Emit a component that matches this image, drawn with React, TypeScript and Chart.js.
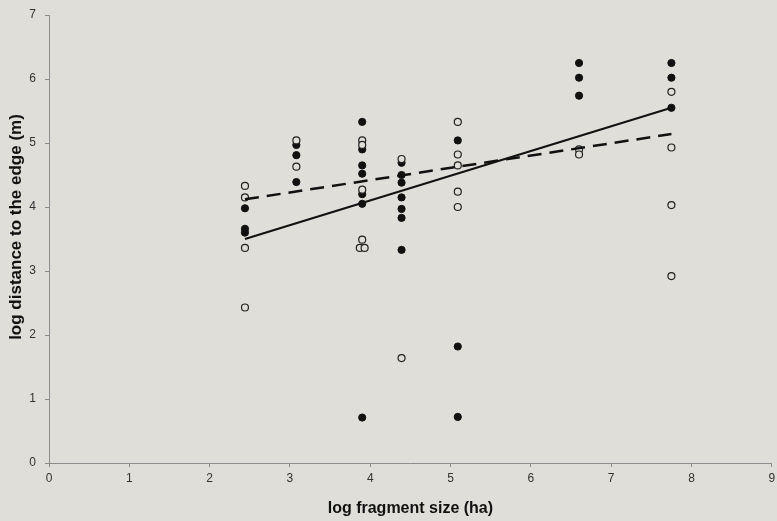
import React, { useEffect, useRef } from "react";
import { Chart, registerables } from "chart.js";

Chart.register(...registerables);

// ---- data ----
const xMin = 0;
const xMax = 9;
const yMin = 0;
const yMax = 7;

const openX = [2.44, 2.44, 2.44, 2.44, 3.08, 3.08, 3.9, 3.9, 3.9, 3.9, 3.87, 3.93, 4.39, 4.39, 5.09, 5.09, 5.09, 5.09, 5.09, 6.6, 6.6, 7.75, 7.75, 7.75, 7.75];
const openY = [4.33, 4.15, 3.36, 2.43, 5.04, 4.63, 5.04, 4.97, 4.27, 3.49, 3.36, 3.36, 4.75, 1.64, 5.33, 4.82, 4.65, 4.24, 4.0, 4.9, 4.82, 5.8, 4.93, 4.03, 2.92];

const filledX = [2.44, 2.44, 2.44, 3.08, 3.08, 3.08, 3.9, 3.9, 3.9, 3.9, 3.9, 3.9, 3.9, 4.39, 4.39, 4.39, 4.39, 4.39, 4.39, 4.39, 5.09, 5.09, 5.09, 6.6, 6.6, 6.6, 7.75, 7.75, 7.75];
const filledY = [3.98, 3.66, 3.6, 4.97, 4.81, 4.39, 5.33, 4.9, 4.65, 4.52, 4.2, 4.05, 0.71, 4.69, 4.5, 4.38, 4.15, 3.97, 3.83, 3.33, 5.04, 1.82, 0.72, 6.25, 6.02, 5.74, 6.25, 6.02, 5.55];

const fitX = [2.44, 7.75];
const solidFitY = [3.5, 5.55];
const dashedFitY = [4.12, 5.14];

const xTitle = "log fragment size (ha)";
const yTitle = "log distance to the edge (m)";

const BG = "#dfded8";
const FONT = '"Liberation Sans", Arial, sans-serif';

export default function App() {
  const ref = useRef<HTMLCanvasElement>(null);

  useEffect(() => {
    if (!ref.current) return;
    const pts = (xs: number[], ys: number[]) => xs.map((x, i) => ({ x, y: ys[i] }));

    const bgPlugin = {
      id: "bg",
      beforeDraw(chart: any) {
        const { ctx, width, height } = chart;
        ctx.save();
        ctx.fillStyle = BG;
        ctx.fillRect(0, 0, width, height);
        ctx.restore();
      },
    };

    const titlePlugin = {
      id: "titles",
      afterDraw(chart: any) {
        const { ctx, chartArea } = chart;
        ctx.save();
        ctx.fillStyle = "#111";
        ctx.textAlign = "center";
        ctx.textBaseline = "middle";
        ctx.font = "bold 16px " + FONT;
        ctx.fillText(xTitle, (chartArea.left + chartArea.right) / 2, 509);
        ctx.font = "bold 17px " + FONT;
        ctx.translate(16, 227);
        ctx.rotate(-Math.PI / 2);
        ctx.fillText(yTitle, 0, 0);
        ctx.restore();
      },
    };

    const chart = new Chart(ref.current, {
      type: "scatter",
      data: {
        datasets: [
          {
            label: "fit solid",
            data: pts(fitX, solidFitY),
            showLine: true,
            borderColor: "#111",
            borderWidth: 2,
            pointRadius: 0,
            fill: false,
          } as any,
          {
            label: "fit dashed",
            data: pts(fitX, dashedFitY),
            showLine: true,
            borderColor: "#111",
            borderWidth: 2.5,
            borderDash: [14, 8],
            pointRadius: 0,
            fill: false,
          } as any,
          {
            label: "open",
            data: pts(openX, openY),
            pointRadius: 3.5,
            pointBackgroundColor: BG,
            pointBorderColor: "#222",
            pointBorderWidth: 1.2,
            showLine: false,
          },
          {
            label: "filled",
            data: pts(filledX, filledY),
            pointRadius: 3.6,
            pointBackgroundColor: "#111",
            pointBorderColor: "#111",
            pointBorderWidth: 1,
            showLine: false,
          },
        ],
      },
      options: {
        animation: false,
        responsive: false,
        layout: { padding: { top: 15, right: 3, left: 0, bottom: 0 } },
        plugins: { legend: { display: false }, tooltip: { enabled: false } },
        scales: {
          x: {
            type: "linear",
            min: xMin,
            max: xMax,
            ticks: { stepSize: 1, color: "#333", font: { family: FONT, size: 12 }, padding: 4 },
            grid: { drawOnChartArea: false, tickLength: 4, color: "#8c8c8c", tickColor: "#8c8c8c" },
            border: { color: "#8c8c8c", width: 1 },
            afterFit: (s: any) => {
              s.height = 58;
              s.paddingLeft = 0;
              s.paddingRight = 0;
            },
          },
          y: {
            type: "linear",
            min: yMin,
            max: yMax,
            ticks: { stepSize: 1, color: "#333", font: { family: FONT, size: 12 }, padding: 9 },
            grid: { drawOnChartArea: false, tickLength: 4, color: "#8c8c8c", tickColor: "#8c8c8c" },
            border: { color: "#8c8c8c", width: 1 },
            afterFit: (s: any) => {
              s.width = 49;
              s.paddingTop = 0;
              s.paddingBottom = 0;
            },
          },
        },
      },
      plugins: [bgPlugin, titlePlugin],
    });

    return () => chart.destroy();
  }, []);

  return (
    <div style={{ position: "absolute", left: 0, top: 0, width: 777, height: 521, background: BG }}>
      <canvas ref={ref} width={777} height={521} style={{ display: "block", width: 777, height: 521 }} />
    </div>
  );
}
